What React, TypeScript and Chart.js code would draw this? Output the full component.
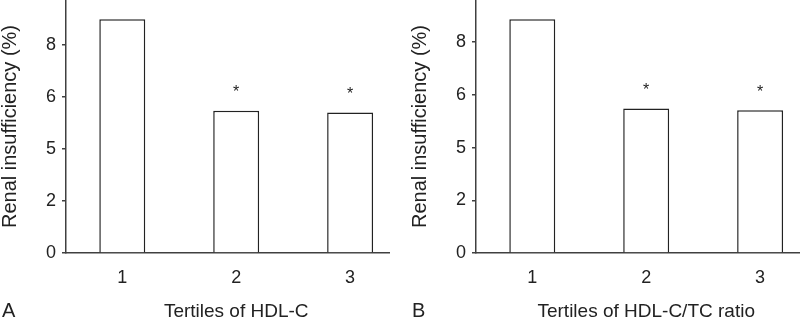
import React, { useEffect, useRef } from "react";
import { Chart, registerables } from "chart.js";

Chart.register(...registerables);

const categories = ["1", "2", "3"];
const hdlValues = [8.99, 5.47, 5.4];
const ratioValues = [8.87, 5.48, 5.42];
const significance = ["", "*", "*"];
const yTickValues = [0, 2, 4, 6, 8];
const yTickLabels = ["0", "2", "5", "6", "8"];
const yTitle = "Renal insufficiency (%)";
const panelLetters = ["A", "B"];
const xTitles = ["Tertiles of HDL-C", "Tertiles of HDL-C/TC ratio"];
const yMaxes = [9.73, 9.6];

const FONT = "'Liberation Sans', Arial, Helvetica, sans-serif";
const INK = "#222222";
const LINE = "#404040";

const annotPlugin = {
  id: "annot",
  afterDatasetsDraw(chart: any) {
    const ctx = chart.ctx;
    const meta = chart.getDatasetMeta(0);
    ctx.save();
    ctx.fillStyle = INK;
    ctx.font = `16px ${FONT}`;
    ctx.textAlign = "center";
    ctx.textBaseline = "alphabetic";
    meta.data.forEach((el: any, i: number) => {
      const s = significance[i];
      if (s) ctx.fillText(s, el.x, el.y - 13.5);
    });
    ctx.restore();
  },
  afterDraw(chart: any, _args: any, opts: any) {
    const ctx = chart.ctx;
    const xs = chart.scales.x;
    const first = xs.getPixelForValue(1);
    const last = xs.getPixelForValue(categories.length);
    ctx.save();
    ctx.fillStyle = INK;
    ctx.font = `19px ${FONT}`;
    ctx.textBaseline = "alphabetic";
    ctx.textAlign = "center";
    ctx.fillText(opts.xTitle, (first + last) / 2, 316.5);
    ctx.textAlign = "left";
    ctx.font = `20px ${FONT}`;
    ctx.fillText(opts.letter, 2, 316.5);
    ctx.restore();
  },
};

function Panel({ idx, values }: { idx: number; values: number[] }) {
  const ref = useRef<HTMLCanvasElement | null>(null);
  useEffect(() => {
    if (!ref.current) return;
    const chart = new Chart(ref.current, {
      type: "bar",
      data: {
        datasets: [
          {
            data: categories.map((_c, i) => ({ x: i + 1, y: values[i] })),
            backgroundColor: "#ffffff",
            borderColor: INK,
            borderWidth: 1.5,
            categoryPercentage: 1,
            barPercentage: 0.4035,
          },
        ],
      },
      options: {
        animation: false,
        responsive: false,
        layout: { padding: 0 },
        plugins: {
          legend: { display: false },
          tooltip: { enabled: false },
          annot: { xTitle: xTitles[idx], letter: panelLetters[idx] },
        } as any,
        scales: {
          x: {
            type: "linear",
            offset: false,
            min: 0.506,
            max: 3.35,
            grid: { display: false, offset: false },
            border: { display: true, color: LINE, width: 1.5 },
            afterBuildTicks: (s: any) => {
              s.ticks = categories.map((_c, i) => ({ value: i + 1 }));
            },
            afterFit: (s: any) => {
              s.height = 65;
              s.paddingLeft = 0;
              s.paddingRight = 0;
            },
            ticks: {
              padding: 6,
              color: INK,
              font: { family: FONT, size: 18 },
              maxRotation: 0,
              autoSkip: false,
              callback: (v: any) => categories[Math.round(v) - 1] ?? "",
            },
          },
          y: {
            type: "linear",
            min: 0,
            max: yMaxes[idx],
            grid: { drawOnChartArea: false, drawTicks: true, tickLength: 4, color: LINE, lineWidth: 1.5 },
            border: { display: true, color: LINE, width: 1.5 },
            afterBuildTicks: (s: any) => {
              s.ticks = yTickValues.map((v) => ({ value: v }));
            },
            afterFit: (s: any) => {
              s.width = 66;
              s.paddingTop = 0;
              s.paddingBottom = 0;
            },
            ticks: {
              padding: 6,
              color: INK,
              font: { family: FONT, size: 18 },
              callback: (v: any) => {
                const k = yTickValues.indexOf(Number(v));
                return k >= 0 ? yTickLabels[k] : "";
              },
            },
            title: {
              display: true,
              text: yTitle,
              color: INK,
              font: { family: FONT, size: 20, lineHeight: 1.0 },
              padding: 0,
            },
          },
        },
      },
      plugins: [annotPlugin],
    } as any);
    return () => chart.destroy();
  }, []);
  return (
    <canvas
      ref={ref}
      width={390}
      height={318}
      style={{ position: "absolute", top: 0, left: idx === 0 ? 0 : 410, width: 390, height: 318 }}
    />
  );
}

export default function App() {
  return (
    <div style={{ position: "absolute", left: 0, top: 0, width: 800, height: 318, background: "#ffffff" }}>
      <Panel idx={0} values={hdlValues} />
      <Panel idx={1} values={ratioValues} />
    </div>
  );
}
